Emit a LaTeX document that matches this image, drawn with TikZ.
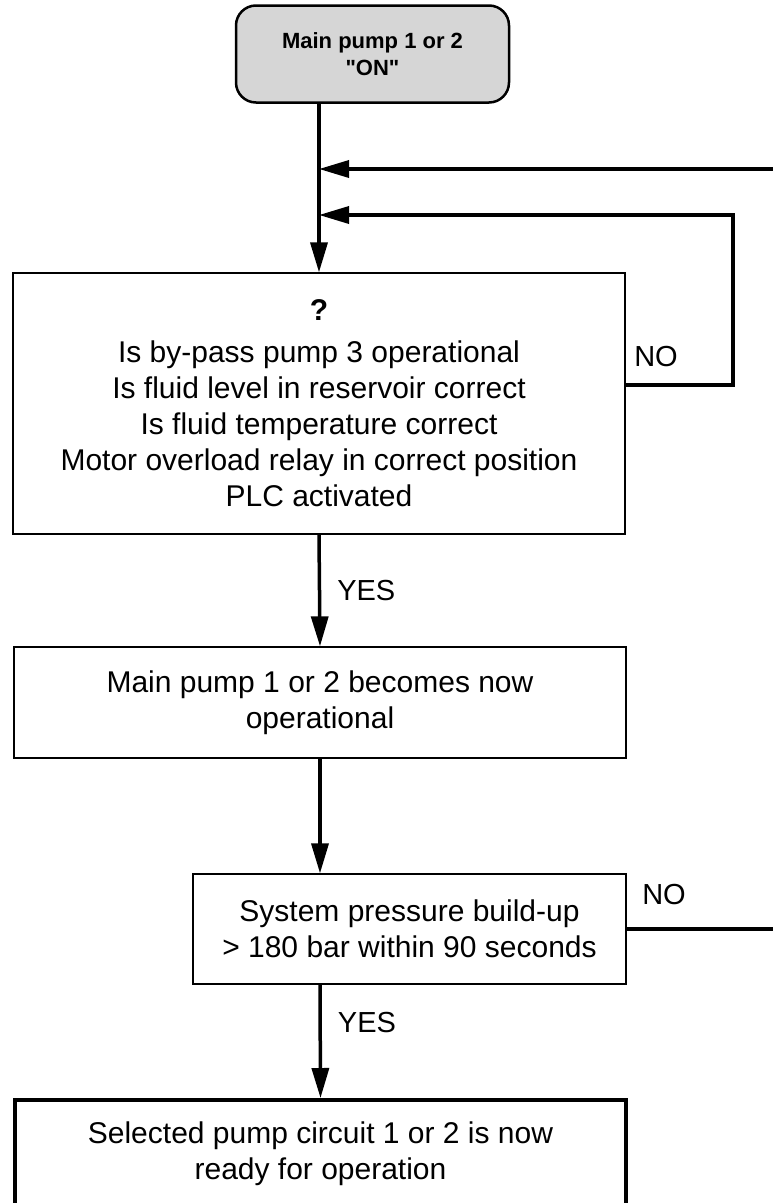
\documentclass[tikz,border=0pt]{standalone}
\usepackage{fontspec}
\setmainfont{Liberation Sans}[Ligatures=TeXOff]
\definecolor{dotgray}{RGB}{214,214,214}
\usetikzlibrary{arrows.meta,positioning}

\begin{document}
\begin{tikzpicture}[x=1pt,y=-1pt]
	\tikzstyle{stepbox}=[rectangle,draw=black,line width=1.3pt,align=center,
	inner sep=0pt,font=\fontsize{30}{36}\selectfont]
	\tikzstyle{flow}=[line width=3.5pt,-{Triangle[length=30pt,width=17pt]}]
	\tikzstyle{lbl}=[font=\fontsize{29}{36}\selectfont,inner sep=0pt]
	\useasboundingbox (0,0) rectangle (773,1203);
	\node[rectangle,rounded corners=20pt,draw,line width=2.5pt,fill=dotgray,
	minimum width=273pt,minimum height=97pt,align=center,
	font=\fontsize{22}{27}\selectfont\bfseries] (start) at (372.5,54) {Main pump 1 or 2\\"ON"};
	\node[stepbox,minimum width=612pt,minimum height=261pt] (chk) at (319,403.5)
	{\textbf{?}\\[6pt]Is by-pass pump 3 operational\\Is fluid level in reservoir correct\\
	Is fluid temperature correct\\Motor overload relay in correct position\\PLC activated};
	\node[stepbox,minimum width=612pt,minimum height=111pt] (run) at (320,702.5)
	{Main pump 1 or 2 becomes now\\operational};
	\node[stepbox,minimum width=433pt,minimum height=110pt] (prs) at (409.5,929)
	{System pressure build-up\\> 180 bar within 90 seconds};
	\node[stepbox,line width=4pt,minimum width=611pt,minimum height=108pt] (ready) at (320.5,1154)
	{Selected pump circuit 1 or 2 is now\\ready for operation};
	% return lines
	\coordinate (ret) at (773,169);
	\coordinate (loop) at (733,215);
	\coordinate (off) at (773,929);
	\draw[flow] (start.south -| chk.north) -- (chk.north);
	\draw[flow] (ret) -- (ret -| chk.north);
	\draw[flow] ([yshift=18.5pt]chk.east) -| (loop) -- (loop -| chk.north);
	\node[lbl] at (656,357) {NO};
	\draw[flow] (chk.south) -- (run.north) node[lbl,midway,right=16pt] {YES};
	\draw[flow] (run.south) -- (run.south |- prs.north);
	\draw[flow] (prs.south -| run.south) -- (ready.north) node[lbl,pos=0.33,right=16pt] {YES};
	\draw[line width=3.5pt] (prs.east) -- (off);
	\node[lbl] at (664,895) {NO};
\end{tikzpicture}
\end{document}
